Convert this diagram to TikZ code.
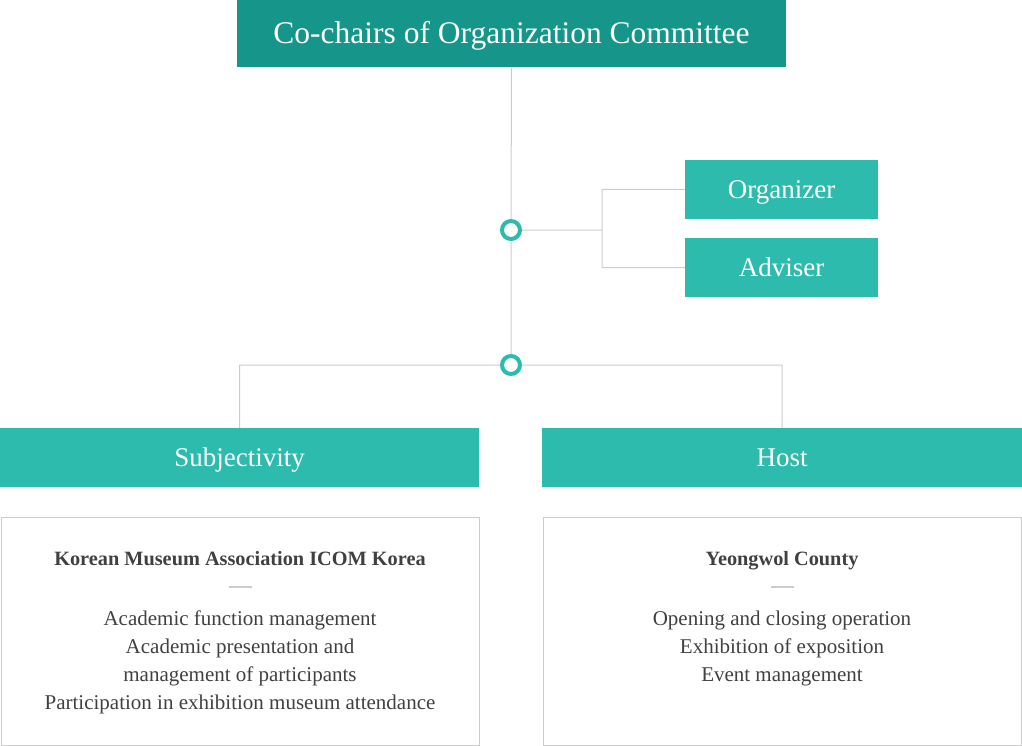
\documentclass[tikz,border=0pt]{standalone}
\usepackage{fontspec}
\setmainfont{Liberation Serif}
\usepackage{tikz}
\definecolor{darkteal}{HTML}{16968A}
\definecolor{lightteal}{HTML}{2CBBAD}
\definecolor{linegray}{HTML}{CCCCCC}
\definecolor{textgray}{HTML}{404040}

\begin{document}
\begin{tikzpicture}[x=1pt,y=-1pt,
  box/.style={fill=lightteal,text=white,inner sep=0pt,minimum height=59pt,text height=18pt,text depth=0pt,font=\fontsize{27}{32}\selectfont},
  ring/.style={circle,draw=lightteal,line width=4pt,fill=white,minimum size=18pt,inner sep=0pt},
  info/.style={draw=linegray,line width=1pt,inner sep=0pt,minimum width=478pt,minimum height=228pt},
  body/.style={text=textgray,align=center,inner sep=0pt,font=\fontsize{21}{28}\selectfont},
  head/.style={body,anchor=base,font=\fontsize{20.3}{28}\bfseries\selectfont},
  conn/.style={draw=linegray,line width=1pt}]
  \useasboundingbox (0,0) rectangle (1022,746);
  \node[box,fill=darkteal,minimum width=549pt,minimum height=68pt,text height=20pt,font=\fontsize{31.5}{36}\selectfont] (title) at (511.5,33.5) {Co-chairs of Organization Committee};
  \node[box,minimum width=193pt] (organizer) at (781.5,189.5) {Organizer};
  \node[box,minimum width=193pt] (adviser)   at (781.5,267.5) {Adviser};
  \node[box,minimum width=479pt] (subj) at (239.5,457.5) {Subjectivity};
  \node[box,minimum width=480pt] (host) at (782,457.5) {Host};
  \node[ring] (ring1) at (511,230) {};
  \node[ring] (ring2) at (511,365) {};
  \coordinate (fork) at (602,230);
  % lines
  \path[conn]
    (title.south) -- (ring1.north)
    (ring1.south) -- (ring2.north)
    (ring1.east) -- (fork)
    (fork) |- (organizer.west)
    (fork) |- (adviser.west)
    (ring2.west) -| (subj.north)
    (ring2.east) -| (host.north);
  % info boxes
  \node[info] (subjinfo) at (240,631) {};
  \node[info] (hostinfo) at (782,631) {};
  \node[head] (subjhead) at (240,565) {Korean Museum Association ICOM Korea};
  \node[head] (hosthead) at (782,565) {Yeongwol County};
  \draw[conn,line width=1.5pt] (229,587) -- (252,587) (771,587) -- (794,587);
  \node[body,anchor=north] (subjtext) at (240,610.7) {Academic function management\\Academic presentation and\\management of participants\\Participation in exhibition museum attendance};
  \node[body,anchor=north] (hosttext) at (782,610.7) {Opening and closing operation\\Exhibition of exposition\\Event management};
\end{tikzpicture}
\end{document}
